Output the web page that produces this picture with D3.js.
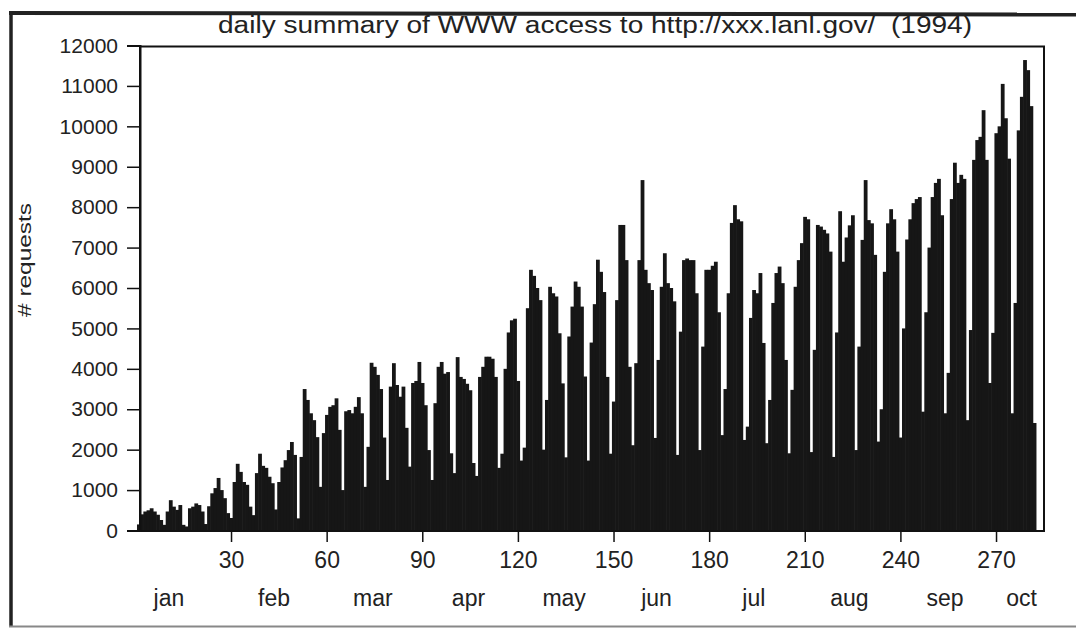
<!DOCTYPE html>
<html><head><meta charset="utf-8">
<script src="https://cdn.jsdelivr.net/npm/d3@7"></script>
<style>
html,body{margin:0;padding:0;background:#fff;}
svg{display:block;}
text{font-family:"Liberation Sans", Arial, Helvetica, sans-serif; fill:#222;}
</style></head><body>
<svg id="chart" width="1076" height="629"></svg>
<script>
const title = "daily summary of WWW access to http://xxx.lanl.gov/  (1994)";
const yLabel = "# requests";
// daily request counts, day 1 = Jan 1 1994
const requests = [
 150,400,470,500,550,470,390,260,140,470,750,590,510,630,140,100,550,590,670,630,
 470,160,600,920,1050,1300,1000,800,430,310,1200,1650,1450,1200,1130,590,380,1420,1900,1600,
 1550,1330,1170,520,1200,1560,1740,1990,2190,1870,300,1820,3500,3230,2900,2730,2310,1080,2410,2860,
 3060,3100,3270,2490,1000,2950,2980,2900,3060,3300,2900,1080,2070,4150,4050,3850,3500,2300,1250,3560,
 4140,3600,3310,3560,2540,1580,3650,3700,4170,3650,3100,1990,1250,3150,4050,4170,3880,3920,1910,1420,
 4290,3800,3750,3630,3470,1670,1350,3800,4050,4300,4300,4250,3800,1550,1900,4000,4900,5200,5240,3700,
 1730,2050,5500,6450,6300,6000,5700,2000,3230,6030,5870,5790,4880,3640,1810,4800,5540,6160,6030,5540,
 3810,1730,4650,5600,6700,6400,5900,3800,1900,3190,5700,7560,7560,6690,4050,2110,4140,6690,8670,6450,
 6120,5950,2290,4220,6030,6860,6120,6000,5670,1870,4920,6690,6730,6690,6690,5870,1990,4550,6450,6450,
 6550,6650,5400,2360,3500,5870,7610,8050,7700,7650,2240,2570,5260,5950,5870,6370,4640,2160,3230,5630,
 6370,6530,6120,4220,1910,3480,6030,6690,7110,7760,7700,1940,4470,7560,7520,7440,7350,6900,1820,4900,
 7900,6650,7250,7550,7800,1990,4550,7190,8670,7680,7600,6820,2200,3000,6400,7600,7950,7700,6900,2300,
 5000,7200,7700,8100,8200,8250,2940,5400,7000,8250,8600,8700,7800,2900,3900,8200,9100,8600,8800,8700,
 2730,4960,9170,9660,9740,10400,9170,3650,4890,9830,10000,11050,10200,9200,2900,5630,9900,10730,11640,11390,
 10500,2660
];
const yTicks = [0,1000,2000,3000,4000,5000,6000,7000,8000,9000,10000,11000,12000];
const xTicks = [30,60,90,120,150,180,210,240,270];
const months = ["jan","feb","mar","apr","may","jun","jul","aug","sep","oct"];
const monthPos = [10.5,43.5,74.5,104.5,134.5,163.5,194,224,254,278];

const svg = d3.select("#chart");
const x = d3.scaleLinear().domain([0, 290]).range([135.4, 135.4 + 290*3.1875]);
const y = d3.scaleLinear().domain([0, 12000]).range([530.5, 45.5]);
const plotL = 140, plotR = 1044, plotT = 46.5, plotB = 531;

// bars
svg.append("g").selectAll("rect").data(requests).join("rect")
  .attr("x", (d,i) => x(i + 0.5))
  .attr("width", (d,i) => x(i + 1.5) - x(i + 0.5) + 0.6)
  .attr("y", d => y(d))
  .attr("height", d => y(0) - y(d))
  .attr("fill", "#161616");

// plot frame
svg.append("rect")
  .attr("x", plotL).attr("y", plotT)
  .attr("width", plotR - plotL).attr("height", plotB - plotT)
  .attr("fill", "none").attr("stroke", "#111").attr("stroke-width", 2);

// y axis
const gy = svg.append("g").attr("transform", `translate(${plotL},0)`)
  .call(d3.axisLeft(y).tickValues(yTicks).tickSize(13).tickPadding(9).tickFormat(d3.format("d")));
gy.select(".domain").attr("stroke", "#111").attr("stroke-width", 2);
gy.selectAll(".tick line").attr("stroke", "#111").attr("stroke-width", 1.5);
gy.selectAll(".tick text").style("font-size", "21px").attr("fill", "#222")
  .style("font-family", '"Liberation Sans", Arial, sans-serif');

// x axis
const gx = svg.append("g").attr("transform", `translate(0,${plotB})`)
  .call(d3.axisBottom(x).tickValues(xTicks).tickSize(11).tickPadding(10).tickFormat(d3.format("d")));
gx.select(".domain").remove();
gx.selectAll(".tick line").attr("stroke", "#111").attr("stroke-width", 1.5);
gx.selectAll(".tick text").style("font-size", "23px").attr("fill", "#222")
  .style("font-family", '"Liberation Sans", Arial, sans-serif');

// month labels
svg.append("g").selectAll("text").data(months).join("text")
  .attr("x", (d,i) => x(monthPos[i]))
  .attr("y", 606)
  .attr("text-anchor", "middle")
  .style("font-size", "23px")
  .text(d => d);

// y label
svg.append("text")
  .attr("transform", "translate(31,260) rotate(-90)")
  .attr("text-anchor", "middle")
  .style("font-size", "19px")
  .attr("textLength", 114).attr("lengthAdjust", "spacingAndGlyphs")
  .text(yLabel);

// title
svg.append("text")
  .attr("x", 595).attr("y", 33)
  .attr("text-anchor", "middle")
  .style("font-size", "23px")
  .style("white-space", "pre")
  .attr("textLength", 754).attr("lengthAdjust", "spacingAndGlyphs")
  .text(title);

// outer frame
svg.append("line").attr("x1", 9).attr("y1", 13).attr("x2", 1076).attr("y2", 14.5)
  .attr("stroke", "#222").attr("stroke-width", 4);
svg.append("line").attr("x1", 11).attr("y1", 11).attr("x2", 11).attr("y2", 627)
  .attr("stroke", "#222").attr("stroke-width", 3.5);
svg.append("line").attr("x1", 9).attr("y1", 626.5).attr("x2", 1076).attr("y2", 626.5)
  .attr("stroke", "#888").attr("stroke-width", 2);
</script>
</body></html>
